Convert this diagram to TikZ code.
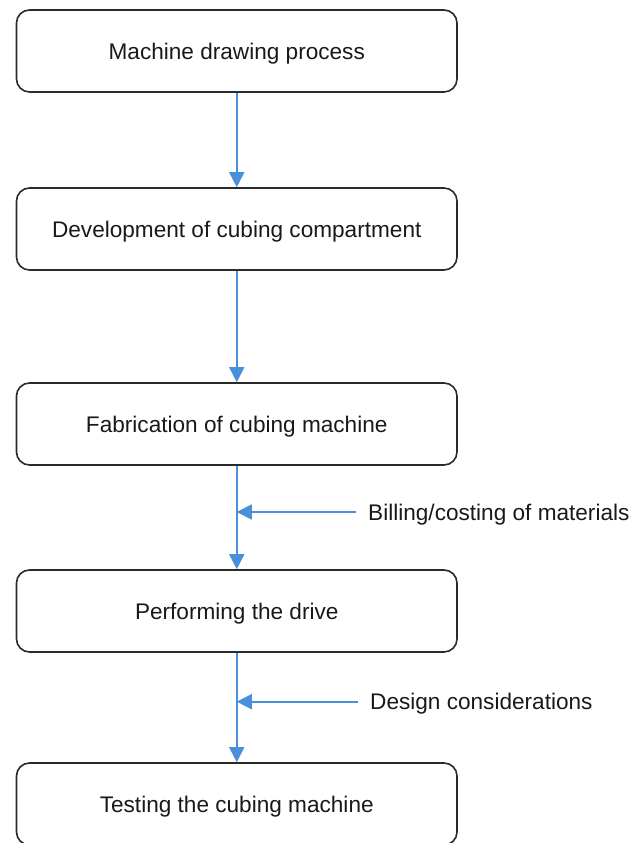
\documentclass[tikz,border=0pt]{standalone}
\usepackage{fontspec}
\setmainfont{Liberation Sans}
\usetikzlibrary{arrows.meta}
\definecolor{flowblue}{HTML}{4A8FDB}
\definecolor{boxline}{HTML}{2A2A2A}
\tikzset{
  stepbox/.style={draw=boxline, line width=1.6pt, rounded corners=13pt,
    minimum width=440.5pt, minimum height=82pt, inner sep=0pt,
    text height=16.2pt, text depth=0pt,
    font=\fontsize{22.6pt}{26pt}\selectfont, text=black!90},
  flow/.style={draw=flowblue, line width=1.7pt,
    -{Triangle[width=15pt,length=15pt]}},
  sidelabel/.style={anchor=west, inner xsep=12pt, inner ysep=0pt,
    text height=16.2pt, text depth=0pt,
    font=\fontsize{22.6pt}{26pt}\selectfont, text=black!90}
}
\begin{document}
\begin{tikzpicture}[x=1pt,y=1pt]
\useasboundingbox (0,0) rectangle (635,843);
\clip (0,0) rectangle (635,843);
\node[stepbox] (b1) at (236.75,792) {Machine drawing process};
\node[stepbox] (b2) at (236.75,614) {Development of cubing compartment};
\node[stepbox] (b3) at (236.75,419) {Fabrication of cubing machine};
\node[stepbox] (b4) at (236.75,232) {Performing the drive};
\node[stepbox] (b5) at (236.75,39) {Testing the cubing machine};
\draw[flow] (b1) -- (b2);
\draw[flow] (b2) -- (b3);
\draw[flow] (b3) -- (b4);
\draw[flow] (b4) -- (b5);
\node[sidelabel] (l1) at (356,331) {Billing/costing of materials};
\node[sidelabel] (l2) at (358,141.3) {Design considerations};
\coordinate (j1) at (b3.south |- l1.west);
\coordinate (j2) at (b4.south |- l2.west);
\draw[flow] (l1.west) -- (j1);
\draw[flow] (l2.west) -- (j2);
\end{tikzpicture}
\end{document}
